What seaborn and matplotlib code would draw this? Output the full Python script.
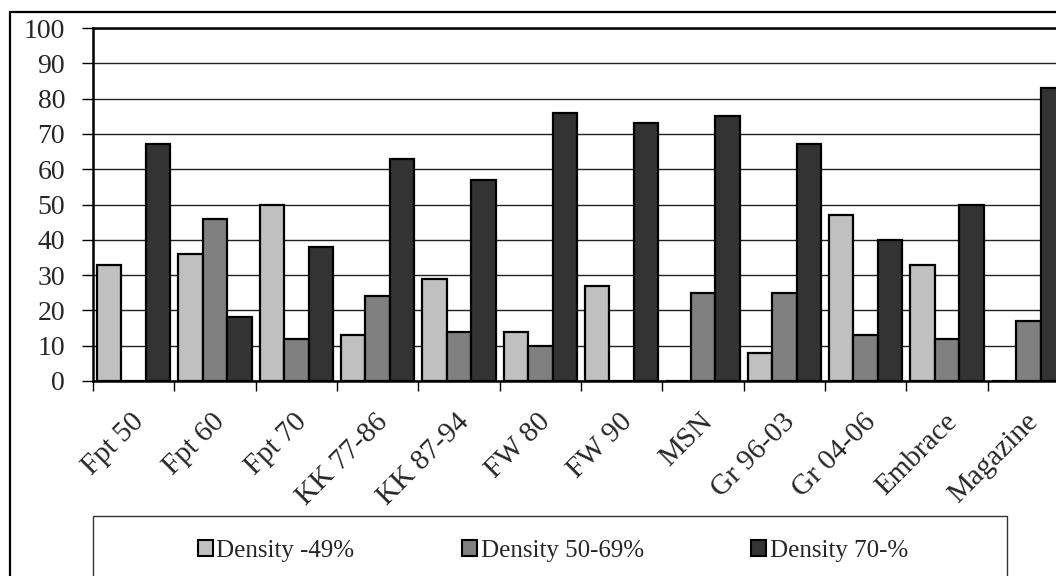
import matplotlib
matplotlib.use("Agg")
import matplotlib.pyplot as plt
from matplotlib.patches import Rectangle, Patch
from matplotlib.transforms import ScaledTranslation
import seaborn as sns
import pandas as pd

categories = ["Fpt 50", "Fpt 60", "Fpt 70", "KK 77-86", "KK 87-94", "FW 80",
              "FW 90", "MSN", "Gr 96-03", "Gr 04-06", "Embrace", "Magazine"]
series_names = ["Density -49%", "Density 50-69%", "Density 70-%"]
low_density = [33, 36, 50, 13, 29, 14, 27, 0, 8, 47, 33, 0]
mid_density = [0, 46, 12, 24, 14, 10, 0, 25, 25, 13, 12, 17]
high_density = [67, 18, 38, 63, 57, 76, 73, 75, 67, 40, 50, 83]
colors = ["#C0C0C0", "#808080", "#333333"]
y_ticks = [0, 10, 20, 30, 40, 50, 60, 70, 80, 90, 100]

rows = []
for name, vals in zip(series_names, [low_density, mid_density, high_density]):
    for c, v in zip(categories, vals):
        rows.append({"category": c, "series": name, "value": v})
df = pd.DataFrame(rows)

sns.set_theme(style="white")
plt.rcParams["font.family"] = ["Liberation Serif", "DejaVu Serif"]

W, H = 1056, 576
fig = plt.figure(figsize=(W / 100, H / 100), dpi=100)
fig.patch.set_facecolor("white")

ax_left, ax_right, ax_top, ax_bottom = 93, 1069, 28, 381
ax = fig.add_axes([ax_left / W, 1 - ax_bottom / H, (ax_right - ax_left) / W, (ax_bottom - ax_top) / H])

sns.barplot(data=df, x="category", y="value", hue="series", order=categories,
            hue_order=series_names, palette=dict(zip(series_names, colors)),
            width=0.9, edgecolor="black", linewidth=1.6, ax=ax, legend=False,
            saturation=1)

ax.set_xlim(-0.5, len(categories) - 0.5)
ax.set_ylim(0, 100)
ax.set_yticks(y_ticks)
ax.set_yticklabels([str(t) for t in y_ticks], fontsize=20)
ax.yaxis.grid(True, color="#222222", linewidth=1.0)
ax.set_axisbelow(True)
ax.tick_params(axis="y", which="major", direction="out", length=8, width=1, color="black", pad=12, left=True)

ax.set_xticks(range(len(categories)))
ax.set_xticklabels(categories, fontsize=21, rotation=45, ha="right", rotation_mode="anchor")
ax.set_xticks([i - 0.5 for i in range(len(categories) + 1)], minor=True)
ax.tick_params(axis="x", which="major", length=0, pad=20)
ax.tick_params(axis="x", which="minor", direction="out", length=7, width=1, color="black", bottom=True)
shift = ScaledTranslation(-3 / 100, 0, fig.dpi_scale_trans)
for lab in ax.get_xticklabels():
    lab.set_transform(lab.get_transform() + shift)
ax.set_xlabel("")
ax.set_ylabel("")

for side in ["left", "top", "bottom"]:
    ax.spines[side].set_visible(True)
    ax.spines[side].set_color("black")
    ax.spines[side].set_linewidth(1.8)
ax.spines["right"].set_visible(False)

# outer chart frame
fig.patches.append(Rectangle((10 / W, -0.2), 1.3, 1 - 12 / H + 0.2, transform=fig.transFigure,
                             fill=False, edgecolor="black", linewidth=1.6, zorder=0))
# legend frame
fig.patches.append(Rectangle((93 / W, -0.2), (1007 - 93) / W, 1 - 516 / H + 0.2, transform=fig.transFigure,
                             fill=False, edgecolor="#333333", linewidth=1.0, zorder=0))

handles = [Patch(facecolor=c, edgecolor="black", linewidth=1.5, label=n) for c, n in zip(colors, series_names)]
fig.legend(handles=handles, loc="center", bbox_to_anchor=(553 / W, 1 - 551 / H), ncol=3,
           frameon=False, fontsize=18, handlelength=0.6, handleheight=0.6, handletextpad=0.15,
           columnspacing=4.3, borderpad=0, borderaxespad=0)

fig.savefig("out.png", dpi=100, facecolor="white")
